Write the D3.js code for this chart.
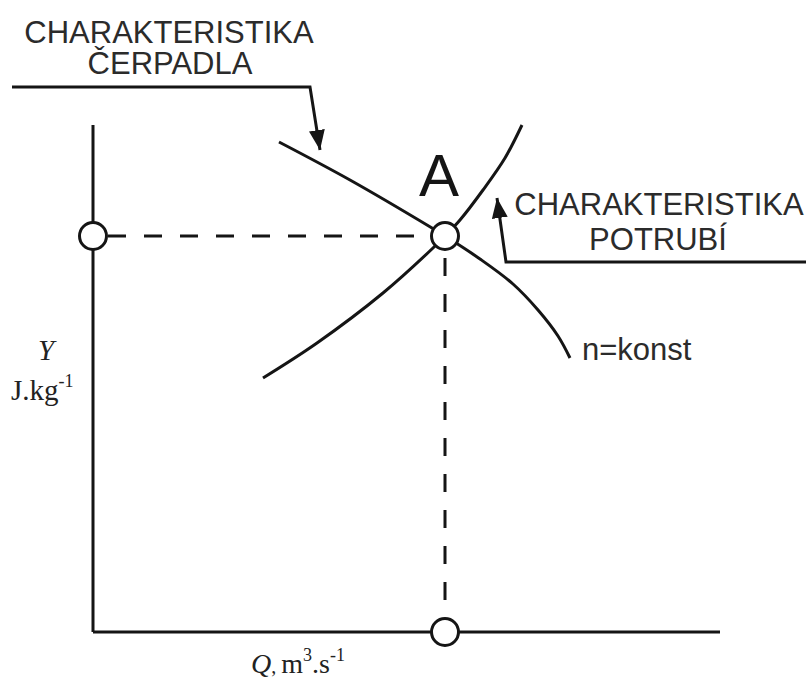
<!DOCTYPE html>
<html>
<head>
<meta charset="utf-8">
<script src="https://cdn.jsdelivr.net/npm/d3@7"></script>
<style>
  body { margin: 0; background: #fff; }
  svg { display: block; }
</style>
</head>
<body>
<div id="chart"></div>
<script>
// values in chart units (Q along x, Y along y)
const pumpQ = [186, 257, 339, 352, 387, 420, 445, 465, 477]
const pumpY = [490, 452, 404, 396, 373, 348, 322, 296, 274]
const pipeQ = [170, 224, 290, 340, 352, 367, 390, 412, 429]
const pipeY = [254, 289, 339, 384, 396, 412, 442, 474, 507]
const pointA = {Q: 352, Y: 396}
// leader lines for the two captions
const pumpLeaderQ = [-81, 217, 227]
const pumpLeaderY = [545, 545, 482]
const pipeLeaderQ = [713, 413, 404]
const pipeLeaderY = [370, 370, 434]

let width = 806
let height = 679

const svg = d3.select('#chart').append('svg')
  .attr('width', width)
  .attr('height', height)

let x = d3.scaleLinear().domain([0, 627]).range([93, 720])
let y = d3.scaleLinear().domain([0, 507]).range([632, 125])

const ink = '#151515'
const sans = '"Liberation Sans", Arial, sans-serif'
const serif = '"Liberation Serif", "Times New Roman", serif'

svg.append('defs').append('marker')
  .attr('id', 'arrow')
  .attr('markerUnits', 'userSpaceOnUse')
  .attr('viewBox', '0 0 20 16')
  .attr('refX', 20).attr('refY', 8)
  .attr('markerWidth', 20).attr('markerHeight', 16)
  .attr('orient', 'auto')
  .append('path')
  .attr('d', 'M0,0 L20,8 L0,16 Z')
  .attr('fill', ink)

// axes
svg.append('line')
  .attr('x1', x(0)).attr('y1', y(0))
  .attr('x2', x(0)).attr('y2', y(507))
  .attr('stroke', ink).attr('stroke-width', 3)
svg.append('line')
  .attr('x1', x(0)).attr('y1', y(0))
  .attr('x2', x(627)).attr('y2', y(0))
  .attr('stroke', ink).attr('stroke-width', 3)

// dashed projections of A
svg.append('line')
  .attr('x1', x(0) + 15).attr('y1', y(pointA.Y))
  .attr('x2', x(pointA.Q) - 15).attr('y2', y(pointA.Y))
  .attr('stroke', ink).attr('stroke-width', 3)
  .attr('stroke-dasharray', '18,18')
svg.append('line')
  .attr('x1', x(pointA.Q)).attr('y1', y(pointA.Y) + 22)
  .attr('x2', x(pointA.Q)).attr('y2', y(0) - 15)
  .attr('stroke', ink).attr('stroke-width', 3)
  .attr('stroke-dasharray', '18,18')

let line = d3.line()
  .x(d => x(d[0]))
  .y(d => y(d[1]))
  .curve(d3.curveCatmullRom.alpha(0.5))

svg.append('path')
  .datum(pumpQ.map((q, i) => [q, pumpY[i]]))
  .attr('d', line)
  .attr('fill', 'none').attr('stroke', ink).attr('stroke-width', 3)

svg.append('path')
  .datum(pipeQ.map((q, i) => [q, pipeY[i]]))
  .attr('d', line)
  .attr('fill', 'none').attr('stroke', ink).attr('stroke-width', 3)

// leaders
let straight = d3.line().x(d => x(d[0])).y(d => y(d[1]))
svg.append('path')
  .datum(pumpLeaderQ.map((q, i) => [q, pumpLeaderY[i]]))
  .attr('d', straight)
  .attr('fill', 'none').attr('stroke', ink).attr('stroke-width', 3)
  .attr('marker-end', 'url(#arrow)')
svg.append('path')
  .datum(pipeLeaderQ.map((q, i) => [q, pipeLeaderY[i]]))
  .attr('d', straight)
  .attr('fill', 'none').attr('stroke', ink).attr('stroke-width', 3)
  .attr('marker-end', 'url(#arrow)')

// circles
let circles = [[0, pointA.Y], [pointA.Q, pointA.Y], [pointA.Q, 0]]
svg.selectAll('.pt')
  .data(circles)
  .enter().append('circle')
  .attr('class', 'pt')
  .attr('cx', d => x(d[0]))
  .attr('cy', d => y(d[1]))
  .attr('r', 13.5)
  .attr('fill', '#fff')
  .attr('stroke', ink).attr('stroke-width', 3)

// texts
function label(tx, ty, str, size, anchor) {
  return svg.append('text')
    .attr('x', tx).attr('y', ty)
    .attr('font-family', sans)
    .attr('font-size', size)
    .attr('text-anchor', anchor || 'middle')
    .attr('fill', '#2b2b2b')
    .text(str)
}
label(169, 43, 'CHARAKTERISTIKA', 31)
label(170, 74, 'ČERPADLA', 31)
label(659, 215, 'CHARAKTERISTIKA', 31)
label(658, 250, 'POTRUBÍ', 31)
label(582, 360, 'n=konst', 31, 'start')
label(439, 196, 'A', 60).attr('fill', ink)

// axis titles
svg.append('text')
  .attr('x', 46).attr('y', 360)
  .attr('font-family', serif).attr('font-size', 29)
  .attr('font-style', 'italic').attr('text-anchor', 'middle')
  .attr('fill', '#222')
  .text('Y')
let yUnit = svg.append('text')
  .attr('x', 11).attr('y', 400)
  .attr('font-family', serif).attr('font-size', 29)
  .attr('fill', '#222')
yUnit.append('tspan').text('J.kg')
yUnit.append('tspan').attr('dy', -13).attr('font-size', 18).text('-1')

let xUnit = svg.append('text')
  .attr('x', 251).attr('y', 673)
  .attr('font-family', serif).attr('font-size', 28)
  .attr('fill', '#222')
xUnit.append('tspan').attr('font-style', 'italic').text('Q')
xUnit.append('tspan').attr('font-size', 20).text(', ')
xUnit.append('tspan').text('m')
xUnit.append('tspan').attr('dy', -12).attr('font-size', 18).text('3')
xUnit.append('tspan').attr('dy', 12).text('.s')
xUnit.append('tspan').attr('dy', -12).attr('font-size', 18).text('-1')
</script>
</body>
</html>
